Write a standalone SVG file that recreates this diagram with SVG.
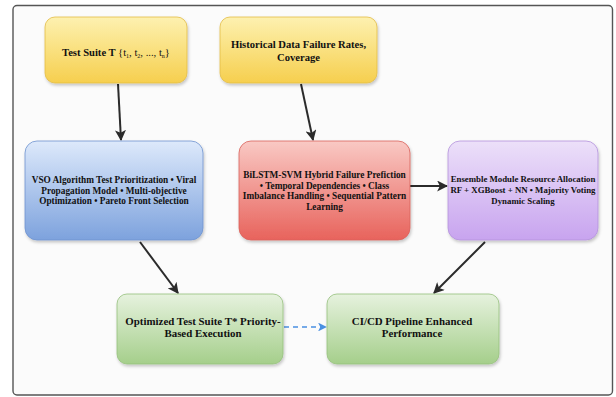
<svg xmlns="http://www.w3.org/2000/svg" width="616" height="397" viewBox="0 0 616 397">
<style>
.box{stroke-width:0.8;filter:url(#sh)}
.t{font-family:"Liberation Serif","Times New Roman",serif;font-weight:bold;fill:#111;text-anchor:middle}
.s9{font-size:9.3px}
.s8{font-size:8.8px}
.s10{font-size:10.6px}
.s11{font-size:10.9px}
.arr{stroke:#2b2b2b;stroke-width:2;fill:none;marker-end:url(#ah)}
.dash{stroke:#4a90e2;stroke-width:1.6;fill:none;stroke-dasharray:5,4;marker-end:url(#ahb)}
</style>
<defs>
<filter id="sh" x="-10%" y="-10%" width="120%" height="130%">
<feDropShadow dx="1" dy="2" stdDeviation="1.8" flood-color="#000" flood-opacity="0.22"/>
</filter>
<linearGradient id="gy" x1="0" y1="0" x2="0" y2="1"><stop offset="0" stop-color="#fdf1b0"/><stop offset="1" stop-color="#f6cf4e"/></linearGradient>
<linearGradient id="gb" x1="0" y1="0" x2="0" y2="1"><stop offset="0" stop-color="#dde9fb"/><stop offset="1" stop-color="#7da2dd"/></linearGradient>
<linearGradient id="gr" x1="0" y1="0" x2="0" y2="1"><stop offset="0" stop-color="#f9c9c4"/><stop offset="1" stop-color="#e8635c"/></linearGradient>
<linearGradient id="gp" x1="0" y1="0" x2="0" y2="1"><stop offset="0" stop-color="#ece0f9"/><stop offset="1" stop-color="#c8a4ef"/></linearGradient>
<linearGradient id="gg" x1="0" y1="0" x2="0" y2="1"><stop offset="0" stop-color="#e6f2de"/><stop offset="1" stop-color="#a5cf8b"/></linearGradient>
<marker id="ah" viewBox="0 0 10 10" refX="9" refY="5" markerWidth="5.5" markerHeight="5.5" orient="auto" markerUnits="strokeWidth">
<path d="M0,0 L10,5 L0,10 L2.5,5 z" fill="#2b2b2b"/>
</marker>
<marker id="ahb" viewBox="0 0 10 10" refX="9" refY="5" markerWidth="5.5" markerHeight="5.5" orient="auto" markerUnits="strokeWidth">
<path d="M0,0 L10,5 L0,10 L2.5,5 z" fill="#4a90e2"/>
</marker>
</defs>
<rect x="0" y="0" width="616" height="397" fill="#ffffff"/>
<rect id="frame" x="13" y="5.5" width="599.5" height="389.5" rx="4" fill="#fbfbfb" stroke="#555" stroke-width="1.4"/>

<g id="connectors">
<line class="arr" x1="118" y1="84" x2="121" y2="140"/>
<line class="arr" x1="301" y1="84" x2="313" y2="140"/>
<line class="arr" x1="410" y1="186" x2="447" y2="186"/>
<line class="arr" x1="140" y1="242" x2="178" y2="293"/>
<line class="arr" x1="485" y1="242" x2="434" y2="293"/>
<line class="dash" x1="284" y1="327" x2="326" y2="327"/>
</g>

<g id="test-suite">
<rect class="box" x="45" y="17" width="142" height="66" rx="10" fill="url(#gy)" stroke="#e3bd45"/>
<text class="t s10" x="116" y="56">Test Suite T <tspan font-weight="normal">{t<tspan font-size="6" dy="2">1</tspan><tspan dy="-2">, t</tspan><tspan font-size="6" dy="2">2</tspan><tspan dy="-2">, ..., t</tspan><tspan font-size="6" dy="2">n</tspan><tspan dy="-2">}</tspan></tspan></text>
</g>

<g id="historical">
<rect class="box" x="220" y="17" width="157" height="66" rx="10" fill="url(#gy)" stroke="#e3bd45"/>
<text class="t s10" x="298.5" y="47.5">Historical Data Failure Rates,</text>
<text class="t s10" x="298.5" y="60.5">Coverage</text>
</g>

<g id="vso">
<rect class="box" x="25" y="141" width="178" height="99" rx="12" fill="url(#gb)" stroke="#6f93cf"/>
<text class="t s9" x="114" y="183">VSO Algorithm Test Prioritization • Viral</text>
<text class="t s9" x="114" y="193.7">Propagation Model • Multi-objective</text>
<text class="t s9" x="114" y="204.4">Optimization • Pareto Front Selection</text>
</g>

<g id="bilstm">
<rect class="box" x="239" y="141" width="171" height="99" rx="12" fill="url(#gr)" stroke="#d9625c"/>
<text class="t s9" x="324.5" y="178">BiLSTM-SVM Hybrid Failure Prefiction</text>
<text class="t s9" x="324.5" y="188.7">• Temporal Dependencies • Class</text>
<text class="t s9" x="324.5" y="199.4">Imbalance Handling • Sequential Pattern</text>
<text class="t s9" x="324.5" y="210.1">Learning</text>
</g>

<g id="ensemble">
<rect class="box" x="448" y="141" width="150" height="99" rx="12" fill="url(#gp)" stroke="#b493dc"/>
<text class="t s8" x="523" y="182">Ensemble Module Resource Allocation</text>
<text class="t s8" x="523" y="193">RF + XGBoost + NN • Majority Voting</text>
<text class="t s8" x="523" y="204">Dynamic Scaling</text>
</g>

<g id="optimized">
<rect class="box" x="117" y="294" width="166" height="70" rx="10" fill="url(#gg)" stroke="#95c07c"/>
<text class="t s11" x="203" y="324.5">Optimized Test Suite T* Priority-</text>
<text class="t s11" x="203" y="337">Based Execution</text>
</g>

<g id="cicd">
<rect class="box" x="327" y="294" width="172" height="70" rx="10" fill="url(#gg)" stroke="#95c07c"/>
<text class="t s11" x="412" y="324.5">CI/CD Pipeline Enhanced</text>
<text class="t s11" x="412" y="337">Performance</text>
</g>
</svg>
